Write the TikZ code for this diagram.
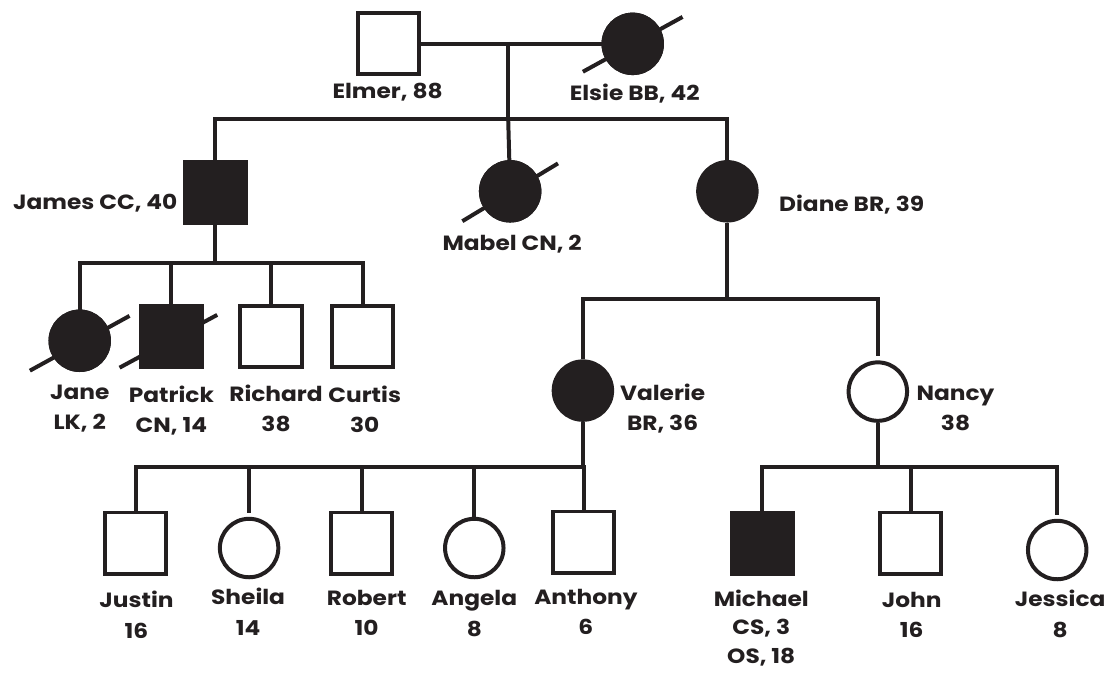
\documentclass[tikz,border=0pt]{standalone}
\usepackage{fontspec}
\setmainfont{Poppins}[FakeStretch=1.13]
\definecolor{ink}{HTML}{231F20}
\begin{document}
\begin{tikzpicture}[x=0.75pt,y=-0.75pt,
  every path/.style={draw=ink, line width=3pt},
  male/.style={draw=ink, line width=3pt, rectangle, minimum size=46pt, inner sep=0pt, fill=white},
  female/.style={draw=ink, line width=3pt, circle, minimum size=44pt, inner sep=0pt, fill=white},
  aff/.style={fill=ink},
  lbl/.style={text=ink, font=\fontsize{15.5}{23}\selectfont\bfseries, align=center, inner sep=0pt},
  gap/.style={shorten >=3pt}
]
\useasboundingbox (0,0) rectangle (1109,672);
\fill[white] (0,0) rectangle (1109,672);

% Generation I
\node[male] (elmer) at (388,42) {};
\node[female,aff] (elsie) at (633,42) {};
\coordinate (m1) at (508,40);
\coordinate (s1) at (508,117);
% slashes drawn first so the circle covers its middle
\draw (elsie.center) ++(-50,28) coordinate (elsieA) -- ++(100,-55) coordinate (elsieB);
\node[female,aff] at (elsie) {};
\draw (elmer) -- (elsie);
\draw (m1) -- (s1);
\node[lbl] (lElmer) at (387,90) {Elmer, 88};
\node[lbl] (lElsie) at (635,92) {Elsie BB, 42};

% Generation II
\node[male,aff] (james) at (214,191) {};
\node[female,aff] (mabel) at (510,190) {};
\node[female,aff] (diane) at (728,190) {};
\draw (mabel.center) ++(-48,30) -- ++(96,-58);
\node[female,aff] at (mabel) {};
\draw (s1) -| (james);
\draw (s1) -| (diane);
\draw (s1) -- (mabel);
\node[lbl, anchor=east] (lJames) at (178,202) {James CC, 40};
\node[lbl] (lMabel) at (512,243) {Mabel CN, 2};
\node[lbl, anchor=west] (lDiane) at (778,203) {Diane BR, 39};

% Generation III - James's children
\coordinate (s2) at (214,262);
\node[female,aff] (jane) at (78,340) {};
\node[male,aff] (patrick) at (170,336) {};
\node[male] (richard) at (270,336) {};
\node[male] (curtis) at (362,336) {};
\draw (jane.center) ++(-50,30) -- ++(100,-55);
\draw (patrick.center) ++(-52,31) -- ++(98,-53);
\node[female,aff] at (jane) {};
\node[male,aff] at (patrick) {};
\draw (james) -- (s2);
\draw (s2) -| (jane);
\draw (s2) -| (patrick);
\draw (s2) -| (richard);
\draw (s2) -| (curtis);
\node[lbl] (lJane) at (78,408) {Jane\\LK, 2};
\node[lbl] (lPatrick) at (170,410) {Patrick\\CN, 14};
\node[lbl] (lRichard) at (275,408) {Richard\\38};
\node[lbl] (lCurtis) at (364,409) {Curtis\\30};

% Generation III - Diane's children
\coordinate (s3) at (728,298);
\node[female,aff] (valerie) at (583,390) {};
\node[female] (nancy) at (879,391) {};
\draw (diane) -- (s3);
\draw (s3) -| (valerie);
\draw[gap] (s3) -| (nancy);
\node[lbl] (lValerie) at (663,408) {Valerie\\BR, 36};
\node[lbl] (lNancy) at (957,408) {Nancy\\38};

% Generation IV - Valerie's children
\coordinate (s4) at (583,467);
\node[male] (justin) at (134,543) {};
\node[female] (sheila) at (248,548) {};
\node[male] (robert) at (361,543) {};
\node[female] (angela) at (474,548) {};
\node[male] (anthony) at (584,542) {};
\draw (valerie) -- (s4);
\draw (s4) -| (justin);
\draw[gap] (s4) -| (sheila);
\draw (s4) -| (robert);
\draw (s4) -| (angela);
\draw (s4) -| (anthony);
\node[lbl] (lJustin) at (135,615) {Justin\\16};
\node[lbl] (lSheila) at (247,612) {Sheila\\14};
\node[lbl] (lRobert) at (366,613) {Robert\\10};
\node[lbl] (lAngela) at (474,614) {Angela\\8};
\node[lbl] (lAnthony) at (586,612) {Anthony\\6};

% Generation IV - Nancy's children
\coordinate (s5) at (879,467);
\node[male,aff] (michael) at (763,543) {};
\node[male] (john) at (912,543) {};
\node[female] (jessica) at (1059,550) {};
\draw (nancy) -- (s5);
\draw (s5) -| (michael);
\draw (s5) -| (john);
\draw[gap] (s5) -| (jessica);
\node[lbl, font=\fontsize{15.5}{21.5}\selectfont\bfseries] (lMichael) at (762,628) {Michael\\CS, 3\\OS, 18};
\node[lbl] (lJohn) at (913,615) {John\\16};
\node[lbl] (lJessica) at (1062,614) {Jessica\\8};
\end{tikzpicture}
\end{document}
